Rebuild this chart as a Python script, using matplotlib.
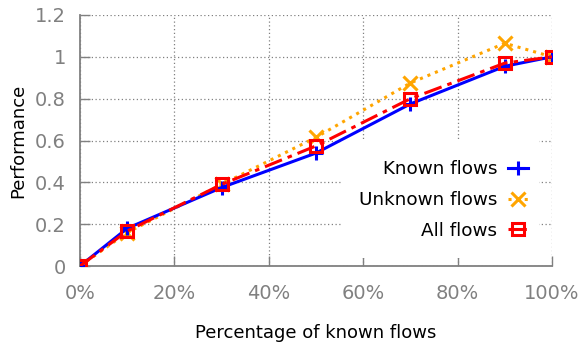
import matplotlib
matplotlib.use("Agg")
import matplotlib.pyplot as plt
from matplotlib.patches import Rectangle
from matplotlib.ticker import FuncFormatter

known_pct = [0, 10, 30, 50, 70, 90, 100]
known_flows = [0.0, 0.18, 0.375, 0.54, 0.775, 0.955, 1.0]
unknown_flows = [0.0, 0.16, 0.39, 0.615, 0.875, 1.065, 1.0]
all_flows = [0.0, 0.167, 0.39, 0.574, 0.80, 0.97, 1.0]

x_ticks = [0, 20, 40, 60, 80, 100]
y_ticks = [0, 0.2, 0.4, 0.6, 0.8, 1.0, 1.2]

GRAY = "#808080"

fig = plt.figure(figsize=(5.82, 3.44), dpi=100)
ax = fig.add_axes([80 / 582, 1 - 266 / 344, 472 / 582, 251 / 344])

ax.plot(known_pct, known_flows, "-", color="#0000ff", linewidth=2.2, marker="+",
        markersize=10, markeredgewidth=2.2, label="Known flows", zorder=3)
ax.plot(known_pct, unknown_flows, ":", color="#ffa500", linewidth=2.2, marker="x",
        markersize=10, markeredgewidth=2.2, label="Unknown flows", zorder=2)
ax.plot(known_pct, all_flows, color="#ff0000", linewidth=2.2, dashes=(6, 2, 1.5, 2),
        marker="s", markersize=9, markerfacecolor="none", markeredgewidth=2.2,
        label="All flows", zorder=4)

ax.set_xlim(0, 100)
ax.set_ylim(0, 1.2)
ax.set_xticks(x_ticks)
ax.set_yticks(y_ticks)
ax.xaxis.set_major_formatter(FuncFormatter(lambda v, _: f"{int(v)}%"))
ax.yaxis.set_major_formatter(FuncFormatter(lambda v, _: f"{v:g}"))
ax.tick_params(direction="in", length=7, width=1, color=GRAY, labelcolor=GRAY,
               labelsize=14, top=False, right=False)
ax.tick_params(axis="x", pad=13)
ax.tick_params(axis="y", pad=10)

ax.grid(True, linestyle=(0, (1, 2)), color=GRAY, linewidth=0.9)
for side in ["left", "bottom"]:
    ax.spines[side].set_color(GRAY)
    ax.spines[side].set_linewidth(1.3)
for side in ["top", "right"]:
    ax.spines[side].set_visible(False)

ax.set_xlabel("Percentage of known flows", fontsize=13, labelpad=15)
ax.set_ylabel("Performance", fontsize=13, labelpad=6)

# white key box that hides the grid behind the legend
ax.add_patch(Rectangle((0.557, 0.03), 0.415, 0.472, transform=ax.transAxes,
                       facecolor="white", edgecolor="none", zorder=1.8))
ax.legend(loc="lower right", bbox_to_anchor=(0.969, 0.068), markerfirst=False,
          frameon=False, fontsize=13.2, handlelength=1.1, handletextpad=0.6,
          labelspacing=0.7, borderpad=0)

fig.savefig("out.png", dpi=100)
